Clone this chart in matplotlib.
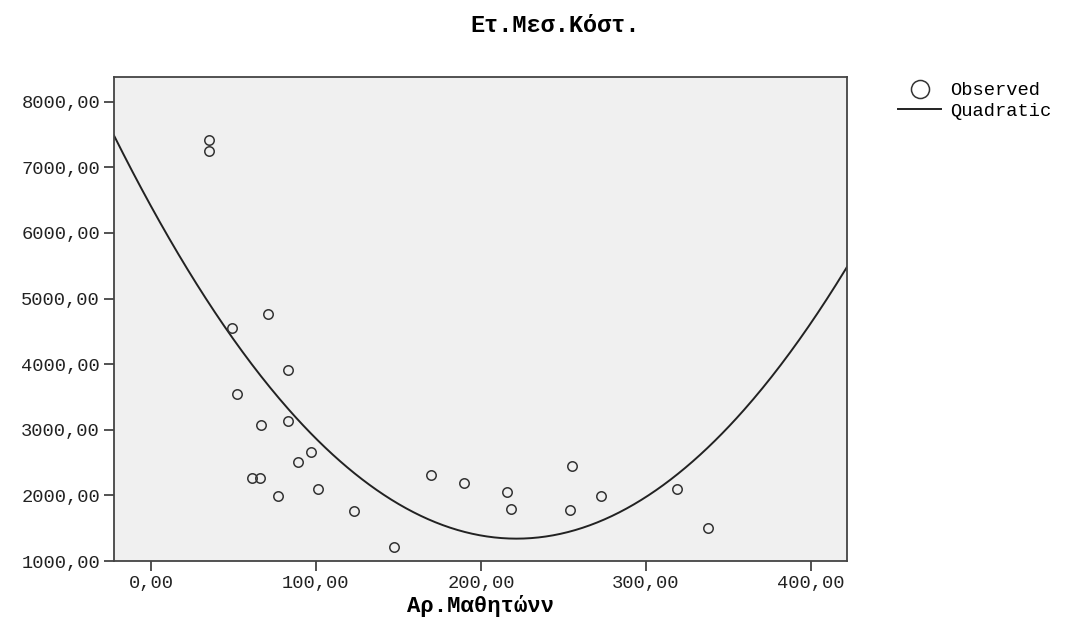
import numpy as np
import matplotlib
matplotlib.use('Agg')
import matplotlib.pyplot as plt
from matplotlib.ticker import FuncFormatter
from matplotlib.lines import Line2D

plt.rcParams['font.family'] = ['Liberation Mono', 'DejaVu Sans Mono']

# Dati
students = [35, 35, 71, 49, 52, 83, 67, 83, 97, 89, 61.5, 66, 77, 101, 123,
            147, 170, 190, 216, 218, 255, 254, 273, 319, 337.5]
cost = [7420, 7245, 4760, 4545, 3545, 3910, 3075, 3135, 2660, 2510, 2260,
        2260, 1990, 2105, 1765, 1215, 2315, 2190, 2050, 1800, 2445, 1775,
        1995, 2090, 1505]

title = 'Ετ.Μεσ.Κόστ.'
xlabel = 'Αρ.Μαθητώνν'
xticks = [0, 100, 200, 300, 400]
yticks = [1000, 2000, 3000, 4000, 5000, 6000, 7000, 8000]

fig = plt.figure(figsize=(10.65, 6.21), dpi=100)
ax = fig.add_axes([0.1070, 0.0966, 0.6883, 0.7794])
ax.set_facecolor('#f0f0f0')

xmin, xmax = -22.4, 421.8
ax.set_xlim(xmin, xmax)
ax.set_ylim(1000, 8376)

# Curva quadratica (fit dei dati)
coef = np.polyfit(students, cost, 2)
xs = np.linspace(xmin, xmax, 400)
ax.plot(xs, np.polyval(coef, xs), color='#222222', lw=1.4)

ax.plot(students, cost, 'o', ms=6.8, mfc='none', mec='#333333', mew=1.1,
        clip_on=False)

fmt = FuncFormatter(lambda v, p: f'{v:.2f}'.replace('.', ','))
ax.xaxis.set_major_formatter(fmt)
ax.yaxis.set_major_formatter(fmt)
ax.set_xticks(xticks)
ax.set_yticks(yticks)
ax.tick_params(axis='both', direction='out', length=7, width=1.3,
               color='#444444', labelsize=13.5, labelcolor='#222222', pad=3)
ax.tick_params(axis='x', pad=3)
for s in ax.spines.values():
    s.set_color('#444444')
    s.set_linewidth(1.3)

ax.set_xlabel(xlabel, fontsize=16, fontweight='bold', labelpad=2)
fig.text(555 / 1065, 1 - 25 / 621, title, fontsize=17, fontweight='bold',
         ha='center', va='center')

handles = [Line2D([], [], marker='o', ls='none', ms=13, mfc='none',
                  mec='#333333', mew=1.1),
           Line2D([], [], color='#222222', lw=1.4)]
fig.legend(handles, ['Observed', 'Quadratic'], loc='upper left',
           bbox_to_anchor=(883 / 1065, 1 - 67 / 621), frameon=False,
           fontsize=13.5, handlelength=2.3, handletextpad=0.5,
           labelspacing=0.2, borderpad=0.3)

fig.savefig('out.png', dpi=100)
